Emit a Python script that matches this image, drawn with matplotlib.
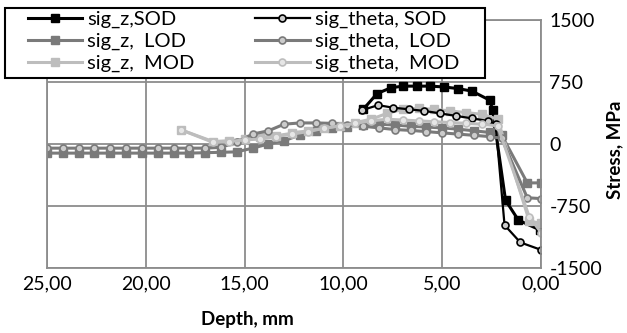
import numpy as np
import matplotlib.pyplot as plt
from matplotlib.patches import Rectangle
from matplotlib.ticker import FuncFormatter

# depth (mm) and stress (MPa)
lod_d = [25.0, 24.2, 23.4, 22.6, 21.8, 21.0, 20.2, 19.4, 18.6, 17.8, 17.0, 16.2,
         15.4, 14.6, 13.8, 13.0, 12.2, 11.4, 10.6, 9.8, 9.0, 8.2, 7.4, 6.6,
         5.8, 5.0, 4.2, 3.4, 2.6, 2.0, 0.7, 0.0]
sig_z_lod = [-110, -110, -110, -110, -110, -110, -110, -110, -110, -110, -105, -100,
             -95, -50, 0, 40, 110, 160, 190, 210, 230, 240, 230, 215,
             205, 195, 180, 160, 140, 110, -470, -470]
sig_t_lod = [-50, -50, -50, -50, -50, -50, -50, -50, -50, -50, -50, -40,
             20, 120, 160, 240, 255, 255, 250, 235, 215, 195, 175, 165,
             150, 135, 120, 105, 90, 70, -650, -660]

mod_d = [18.2, 16.6, 15.8, 15.0, 14.2, 13.4, 12.6, 11.8, 11.0, 10.2, 9.4, 8.6,
         7.8, 7.0, 6.2, 5.4, 4.6, 3.8, 3.0, 2.2, 0.6, 0.0]
sig_z_mod = [170, 30, 40, 60, 80, 100, 130, 160, 190, 220, 260, 300,
             370, 420, 430, 420, 400, 380, 360, 300, -930, -960]
sig_t_mod = [170, 20, 30, 50, 60, 90, 120, 150, 190, 220, 250, 280,
             300, 290, 280, 270, 260, 250, 240, 220, -880, -1070]

sod_z_d = [9.0, 8.3, 7.6, 7.0, 6.3, 5.6, 4.9, 4.2, 3.5, 2.6, 2.45, 1.8, 1.15, 0.05]
sig_z_sod = [420, 610, 680, 700, 700, 700, 690, 670, 640, 530, 410, -680, -920, -1040]
sod_t_d = [9.05, 8.25, 7.5, 6.7, 5.9, 5.1, 4.3, 3.5, 2.7, 2.3, 1.85, 1.05, 0.0]
sig_t_sod = [410, 470, 440, 420, 400, 370, 340, 310, 280, 240, -980, -1190, -1280]

xticks = [25, 20, 15, 10, 5, 0]
yticks = [-1500, -750, 0, 750, 1500]

plt.rcParams['font.family'] = ['Lato', 'DejaVu Sans']
plt.rcParams['axes.unicode_minus'] = False

fig = plt.figure(figsize=(6.27, 3.33), dpi=100)
ax = fig.add_axes([0.075, 0.195, 0.788, 0.745])

black = '#000000'
gray = '#7a7a7a'
light = '#bdbdbd'

h = []
h += ax.plot(sod_z_d, sig_z_sod, color=black, lw=2.2, marker='s', ms=5.5, label='sig_z,SOD')
h += ax.plot(lod_d, sig_z_lod, color=gray, lw=2.2, marker='s', ms=5.5, label='sig_z,  LOD')
h += ax.plot(mod_d, sig_z_mod, color=light, lw=2.2, marker='s', ms=5.5, label='sig_z,  MOD')
h += ax.plot(sod_t_d, sig_t_sod, color=black, lw=1.6, marker='o', ms=5, mfc='#cccccc', mew=1.2,
             label='sig_theta, SOD')
h += ax.plot(lod_d, sig_t_lod, color=gray, lw=2.2, marker='o', ms=5, mfc='#cccccc', mew=1.2,
             label='sig_theta,  LOD')
h += ax.plot(mod_d, sig_t_mod, color=light, lw=2.2, marker='o', ms=5, mfc='#e6e6e6', mew=1.2,
             label='sig_theta,  MOD')

ax.set_xlim(25, 0)
ax.set_ylim(-1500, 1500)
ax.set_xticks(xticks)
ax.set_yticks(yticks)
ax.xaxis.set_major_formatter(FuncFormatter(lambda v, p: f'{v:.2f}'.replace('.', ',')))
ax.yaxis.tick_right()
ax.tick_params(length=0, labelsize=14, pad=5)
ax.tick_params(axis='y', pad=6)
ax.grid(True, color='#8c8c8c', lw=1.3)
ax.set_axisbelow(True)
for s in ax.spines.values():
    s.set_color('#8c8c8c')
    s.set_linewidth(1.3)

fig.text(0.98, 0.55, 'Stress, MPa', rotation=90, ha='center', va='center',
         fontsize=13.5, fontweight='bold')
fig.text(0.394, 0.04, 'Depth, mm', ha='center', va='center', fontsize=13.5, fontweight='bold')

# legend box drawn separately so the handles can sit indented like the original
fig.patches.append(Rectangle((5 / 627, 1 - 78 / 333), 480 / 627, 70 / 333,
                             transform=fig.transFigure, facecolor='white',
                             edgecolor='black', lw=1.5, zorder=1))
leg = fig.legend(h, [l.get_label() for l in h], ncol=2, loc='upper left',
                 bbox_to_anchor=(28 / 627, 1 - 11 / 333), frameon=False,
                 fontsize=14.5, handlelength=2.7, labelspacing=0.22, handletextpad=0.25,
                 borderpad=0, borderaxespad=0, columnspacing=3.0)
leg.set_zorder(5)

fig.savefig('out.png', dpi=100)
